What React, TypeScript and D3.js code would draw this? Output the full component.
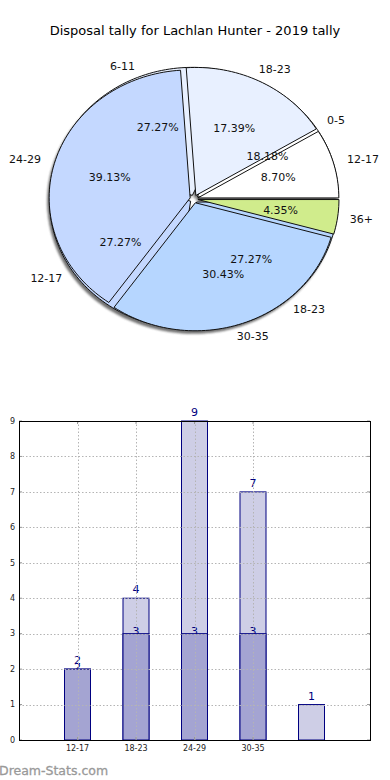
import React from "react";
import * as d3 from "d3";

const title = "Disposal tally for Lachlan Hunter - 2019 tally";

// pie on top (all disposals)
const allLabels = ["12-17", "18-23", "24-29", "30-35", "36+"];
const allValues = [2, 4, 9, 7, 1];
// pie underneath (second series, labelled as in the source)
const subLabels = ["0-5", "6-11", "12-17", "18-23"];
const subValues = [2, 3, 3, 3];

const pieColors = ["#ffffff", "#e8f0ff", "#c4d8ff", "#b6d6ff", "#d0ec8c"];

// bar chart
const barCategories = ["12-17", "18-23", "24-29", "30-35", ""];
const barTotal = [2, 4, 9, 7, 1];
const barPart = [2, 3, 3, 3, 0];
const yTicks = [0, 1, 2, 3, 4, 5, 6, 7, 8, 9];

const font = "DejaVu Sans, sans-serif";

const cx = 194;
const cy = 199;
const rx = 141;
const ry = 128;
const explode = 4;

type Slice = { label: string; value: number; index: number; a0: number; a1: number; mid: number };

function slices(labels: string[], values: number[]): Slice[] {
  // counter-clockwise from 3 o'clock
  const arcs = d3
    .pie<number>()
    .sort(null)
    .startAngle(0)
    .endAngle(2 * Math.PI)(values);
  return arcs.map((a, i) => ({
    label: labels[i],
    value: values[i],
    index: i,
    a0: a.startAngle,
    a1: a.endAngle,
    mid: (a.startAngle + a.endAngle) / 2,
  }));
}

function slicePath(s: Slice, dx: number, dy: number) {
  const ox = cx + dx + explode * Math.cos(s.mid);
  const oy = cy + dy - explode * Math.sin(s.mid);
  const p = d3.path();
  p.moveTo(ox, oy);
  const steps = Math.max(4, Math.ceil((s.a1 - s.a0) / 0.03));
  for (let k = 0; k <= steps; k++) {
    const a = s.a0 + ((s.a1 - s.a0) * k) / steps;
    p.lineTo(ox + rx * Math.cos(a), oy - ry * Math.sin(a));
  }
  p.closePath();
  return p.toString();
}

function PieLayer({ data }: { data: Slice[] }) {
  return (
    <g>
      {data.map((s) => (
        <path
          key={s.label + s.index}
          d={slicePath(s, 0, 0)}
          fill={pieColors[s.index % pieColors.length]}
          stroke="#111"
          strokeWidth={1}
        />
      ))}
    </g>
  );
}

function PieLabels({ data, total }: { data: Slice[]; total: number }) {
  return (
    <g fontFamily={font} fontSize={11} fill="#111" textAnchor="middle">
      {data.map((s) => {
        const c = Math.cos(s.mid);
        const sn = Math.sin(s.mid);
        const px = cx + (rx + 18) * c;
        const py = cy - (ry + 18) * sn;
        const half = s.label.length * 3.3;
        return (
          <g key={s.label + s.index}>
            <text x={cx + 0.62 * rx * c} y={cy - 0.62 * ry * sn} dy="0.35em">
              {((s.value / total) * 100).toFixed(2) + "%"}
            </text>
            <text x={px + half * c} y={py} dy="0.35em">
              {s.label}
            </text>
          </g>
        );
      })}
    </g>
  );
}

function PieChart() {
  const all = slices(allLabels, allValues);
  const sub = slices(subLabels, subValues);
  return (
    <g>
      <defs>
        <filter id="shade" x="-10%" y="-10%" width="120%" height="120%">
          <feGaussianBlur stdDeviation="1.2" />
        </filter>
      </defs>
      <g filter="url(#shade)" opacity={0.75}>
        {all.concat(sub).map((s, i) => (
          <path key={i} d={slicePath(s, -2, 3)} fill="#444" />
        ))}
      </g>
      <PieLayer data={sub} />
      <PieLayer data={all} />
      <PieLabels data={sub} total={d3.sum(subValues)} />
      <PieLabels data={all} total={d3.sum(allValues)} />
    </g>
  );
}

function BarChart() {
  const left = 19;
  const right = 370;
  const top = 421;
  const bottom = 740;
  const keys = barCategories.map((c, i) => String(i));
  const x = d3.scalePoint<string>().domain(keys).range([left, right]).padding(1);
  const y = d3.scaleLinear().domain([0, 9]).range([bottom, top]);
  const bw = 26;
  const navy = "#000080";

  return (
    <g fontFamily={font}>
      {barTotal.map((v, i) => (
        <rect
          key={"t" + i}
          x={(x(keys[i]) as number) - bw / 2}
          y={y(v)}
          width={bw}
          height={y(0) - y(v)}
          fill="#cecee6"
          stroke={navy}
          strokeWidth={1}
        />
      ))}
      {barTotal.map((v, i) => (
        <text key={"tl" + i} x={x(keys[i])} y={y(v) - 5} textAnchor="middle" fontSize={11} fill={navy}>
          {v}
        </text>
      ))}
      {barPart.map((v, i) =>
        v > 0 ? (
          <text key={"pl" + i} x={x(keys[i])} y={y(v) + 1.5} textAnchor="middle" fontSize={11} fill={navy}>
            {v}
          </text>
        ) : null
      )}
      {barPart.map((v, i) =>
        v > 0 ? (
          <rect
            key={"p" + i}
            x={(x(keys[i]) as number) - bw / 2}
            y={y(v)}
            width={bw}
            height={y(0) - y(v)}
            fill="#a4a4d2"
            stroke={navy}
            strokeWidth={1}
          />
        ) : null
      )}
      {/* grid sits on top of the bars */}
      {yTicks.slice(1).map((t) => (
        <line
          key={"gy" + t}
          x1={left}
          x2={right}
          y1={Math.round(y(t)) + 0.5}
          y2={Math.round(y(t)) + 0.5}
          stroke="#b4b4b4"
          strokeDasharray="1.5,2"
        />
      ))}
      {keys.slice(0, 4).map((k) => (
        <line
          key={"gx" + k}
          x1={Math.round(x(k) as number) + 0.5}
          x2={Math.round(x(k) as number) + 0.5}
          y1={top}
          y2={bottom}
          stroke="#b4b4b4"
          strokeDasharray="1.5,2"
        />
      ))}
      {yTicks.map((t) => (
        <g key={"tk" + t} stroke="#999">
          <line x1={left} x2={left + 3} y1={y(t)} y2={y(t)} />
          <line x1={right - 3} x2={right} y1={y(t)} y2={y(t)} />
        </g>
      ))}
      {keys.slice(0, 4).map((k) => (
        <g key={"tx" + k} stroke="#999">
          <line x1={x(k)} x2={x(k)} y1={top} y2={top + 3} />
          <line x1={x(k)} x2={x(k)} y1={bottom} y2={bottom - 3} />
        </g>
      ))}
      <rect x={left + 0.5} y={top + 0.5} width={right - left} height={bottom - top} fill="none" stroke="#000" />
      {yTicks.map((t) => (
        <text key={"yl" + t} x={left - 4} y={y(t)} dy="0.35em" textAnchor="end" fontSize={8} fill="#222">
          {t}
        </text>
      ))}
      {barCategories.map((c, i) => (
        <text key={"xl" + i} x={x(keys[i])} y={bottom + 11} textAnchor="middle" fontSize={8} fill="#222">
          {c}
        </text>
      ))}
    </g>
  );
}

export default function App() {
  return (
    <svg width={390} height={780} style={{ position: "absolute", left: 0, top: 0, background: "#fff" }}>
      <rect width={390} height={780} fill="#fff" />
      <text x={195} y={30} dy="0.35em" textAnchor="middle" fontFamily={font} fontSize={13} fill="#000">
        {title}
      </text>
      <PieChart />
      <BarChart />
      <text x={-1} y={771} dy="0.35em" fontFamily={font} fontSize={12.5} fill="#999" stroke="#999" strokeWidth={0.3}>
        Dream-Stats.com
      </text>
    </svg>
  );
}
